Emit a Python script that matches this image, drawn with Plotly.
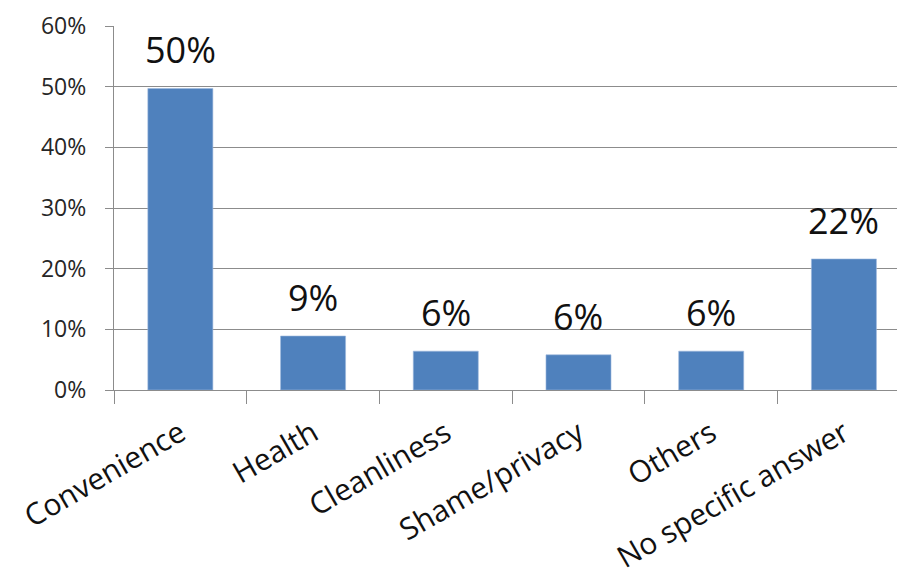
import plotly.graph_objects as go

categories = ["Convenience", "Health", "Cleanliness", "Shame/privacy", "Others", "No specific answer"]
shares = [0.497, 0.089, 0.064, 0.058, 0.064, 0.216]
y_ticks = [0.0, 0.1, 0.2, 0.3, 0.4, 0.5, 0.6]

bar_color = "#4F81BD"
axis_gray = "#8C8C8C"
font_family = "Open Sans, Noto Sans, sans-serif"

fig = go.Figure()
fig.add_trace(go.Bar(
    x=categories,
    y=shares,
    width=0.49,
    marker=dict(color=bar_color, line=dict(color="#9DB9DE", width=0.6)),
    hoverinfo="skip",
))

# value labels above each bar, formatted from the bar's own value
for cat, val in zip(categories, shares):
    fig.add_annotation(
        x=cat, y=val, text=f"{val:.0%}",
        showarrow=False, yanchor="bottom", yshift=12,
        font=dict(family=font_family, size=36, color="#111111"),
    )

fig.update_layout(
    width=898, height=586,
    margin=dict(l=114, r=1, t=26, b=196),
    paper_bgcolor="white", plot_bgcolor="white",
    showlegend=False,
    font=dict(family=font_family, color="#262626"),
)
fig.update_xaxes(
    range=[-0.5, 5.4], automargin=False,
    showline=True, linecolor=axis_gray, linewidth=1.3,
    ticks="outside", tickson="boundaries", ticklen=13, tickcolor=axis_gray,
    tickangle=-30, tickfont=dict(size=30, color="#111111"),
    ticklabelstandoff=13,
    showgrid=False,
)
fig.update_yaxes(
    range=[0, 0.6], tickvals=y_ticks, tickformat=".0%", automargin=False,
    showline=True, linecolor=axis_gray, linewidth=1.3,
    ticks="outside", ticklen=8, tickcolor=axis_gray,
    showgrid=True, gridcolor=axis_gray, gridwidth=1,
    tickfont=dict(size=23, color="#262626"),
    ticklabelstandoff=14,
    zeroline=False,
)

fig.write_html("out.html")
